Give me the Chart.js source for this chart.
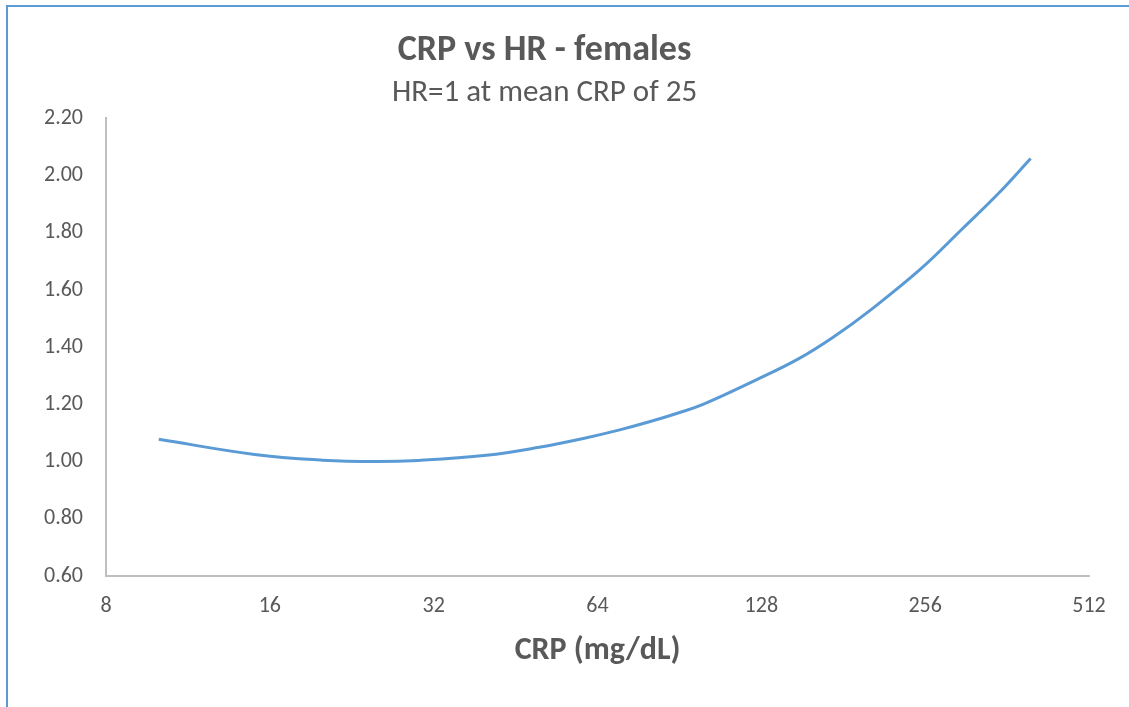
<!DOCTYPE html>
<html>
<head>
<meta charset="utf-8">
<script src="https://cdn.jsdelivr.net/npm/chart.js@4"></script>
<style>
  html, body { margin: 0; padding: 0; background: #fff; }
  body { width: 1129px; height: 707px; overflow: hidden; position: relative; }
  .frame {
    position: absolute; left: 6px; top: 5px; width: 1200px; height: 800px;
    border-left: 2px solid #5b9bd5; border-top: 2px solid #5b9bd5;
  }
  #wrap { position: absolute; left: 0; top: 0; width: 1129px; height: 707px; }
</style>
</head>
<body>
<div class="frame"></div>
<div id="wrap"><canvas id="crpChart" width="1129" height="707"></canvas></div>
<script>
// CRP values (mg/dL) and hazard ratio
const crpValues = [10, 15, 20, 25, 30, 40, 50, 60, 70, 80, 90, 100, 125, 150, 175, 200, 250, 300, 350, 400];
const hrValues = [1.078, 1.025, 1.005, 1.000, 1.004, 1.022, 1.050, 1.080, 1.110, 1.140, 1.170, 1.200, 1.285, 1.360, 1.440, 1.520, 1.670, 1.815, 1.940, 2.060];
const xTicks = [8, 16, 32, 64, 128, 256, 512];

const fontFam = 'Carlito, Lato, sans-serif';

let points = [];
for (let i = 0; i < crpValues.length; i++) {
  points.push({ x: crpValues[i], y: hrValues[i] });
}

const ctx = document.getElementById('crpChart').getContext('2d');
const chart = new Chart(ctx, {
  type: 'scatter',
  data: {
    datasets: [{
      label: 'HR',
      data: points,
      showLine: true,
      borderColor: '#5b9bd5',
      borderWidth: 3,
      pointRadius: 0,
      tension: 0.4,
      fill: false
    }]
  },
  options: {
    responsive: false,
    animation: false,
    layout: { padding: { left: 0, right: 40, top: 0, bottom: 0 } },
    plugins: {
      legend: { display: false },
      tooltip: { enabled: false },
      title: {
        display: true,
        text: 'CRP vs HR - females',
        color: '#595959',
        font: { family: fontFam, size: 36, weight: 'bold' },
        padding: { top: 29, bottom: 1 }
      },
      subtitle: {
        display: true,
        text: 'HR=1 at mean CRP of 25',
        color: '#595959',
        font: { family: fontFam, size: 31 },
        padding: { top: 1, bottom: 7 }
      }
    },
    scales: {
      x: {
        type: 'logarithmic',
        min: 8,
        max: 512,
        afterBuildTicks: (scale) => {
          scale.ticks = xTicks.map(v => ({ value: v }));
        },
        afterFit: (scale) => { scale.height = 131; },
        grid: { display: false, drawTicks: false },
        border: { color: '#bfbfbf', width: 2 },
        ticks: {
          color: '#595959',
          padding: 17,
          font: { family: fontFam, size: 22 },
          maxRotation: 0,
          autoSkip: false,
          callback: (v) => String(v)
        },
        title: {
          display: true,
          text: 'CRP (mg/dL)',
          color: '#595959',
          font: { family: fontFam, size: 32, weight: 'bold' },
          padding: { top: 0, bottom: 37 }
        }
      },
      y: {
        min: 0.6,
        max: 2.2,
        afterFit: (scale) => { scale.width = 106; },
        grid: { display: false, drawTicks: false },
        border: { color: '#bfbfbf', width: 2 },
        ticks: {
          stepSize: 0.2,
          color: '#595959',
          padding: 23,
          font: { family: fontFam, size: 22 },
          callback: (v) => v.toFixed(2)
        }
      }
    }
  }
});
</script>
</body>
</html>
